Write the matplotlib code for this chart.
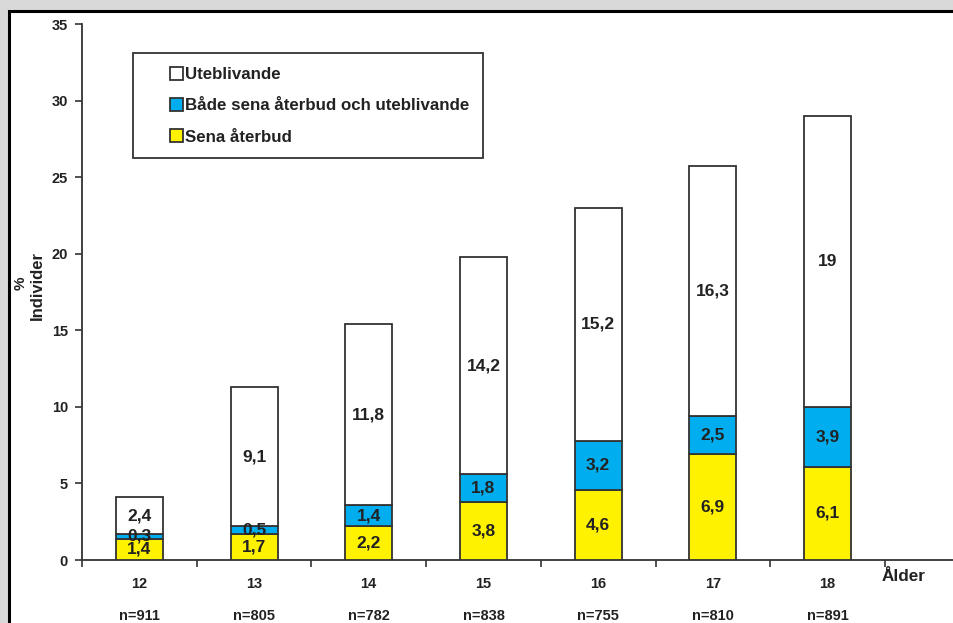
import matplotlib.pyplot as plt
from matplotlib.patches import Rectangle
from matplotlib.legend_handler import HandlerPatch, update_from_first_child
from matplotlib.container import BarContainer
import numpy as np

plt.rcParams["font.family"] = ["Liberation Sans", "DejaVu Sans"]
plt.rcParams["font.weight"] = "bold"

ages = ["12", "13", "14", "15", "16", "17", "18"]
n_labels = ["n=911", "n=805", "n=782", "n=838", "n=755", "n=810", "n=891"]
sena = [1.4, 1.7, 2.2, 3.8, 4.6, 6.9, 6.1]
bada = [0.3, 0.5, 1.4, 1.8, 3.2, 2.5, 3.9]
utebl = [2.4, 9.1, 11.8, 14.2, 15.2, 16.3, 19]
series_names = ["Uteblivande", "Både sena återbud och uteblivande", "Sena återbud"]

W, H = 954, 623
fig = plt.figure(figsize=(W / 100, H / 100), dpi=100)
fig.patch.set_facecolor("#d9d9d9")
# white frame with black border (cropped at right/bottom)
fig.patches.append(Rectangle((9 / W, -0.1), 1.2, 1 - 10.5 / H + 0.1, transform=fig.transFigure,
                             facecolor="white", edgecolor="black", linewidth=2.2, zorder=-5))

ax = fig.add_axes([82 / W, (H - 560) / H, (W - 82) / W, (560 - 24) / H])
ax.set_facecolor("none")
x = np.arange(len(ages))
edge = "#333333"
yellow = "#fff200"
blue = "#00aeef"
w = 0.41
b1 = ax.bar(x, sena, w, color=yellow, edgecolor=edge, linewidth=1.3, zorder=3)
b2 = ax.bar(x, bada, w, bottom=sena, color=blue, edgecolor=edge, linewidth=1.3, zorder=3)
bot = np.array(sena) + np.array(bada)
b3 = ax.bar(x, utebl, w, bottom=bot, color="white", edgecolor=edge, linewidth=1.3, zorder=3)

def fmt(v):
    return ("%g" % v).replace(".", ",")

for i in range(len(ages)):
    ax.text(x[i], sena[i] / 2, fmt(sena[i]), ha="center", va="center", fontsize=12.5, color="#222", zorder=4)
    ax.text(x[i], sena[i] + bada[i] / 2, fmt(bada[i]), ha="center", va="center", fontsize=12.5, color="#222", zorder=4)
    ax.text(x[i], bot[i] + utebl[i] / 2, fmt(utebl[i]), ha="center", va="center", fontsize=12.5, color="#222", zorder=4)

ax.set_ylim(0, 35)
ax.set_xlim(-0.5, -0.5 + (W - 82) / 114.7)
ax.set_yticks(np.arange(0, 36, 5))
ax.tick_params(axis="y", direction="out", length=5, width=1.2, color=edge, labelsize=10.5, pad=5, labelcolor="#222")
ax.set_xticks(x)
ax.set_xticklabels(ages)
ax.set_xticks(np.arange(-0.5, 7.0, 1), minor=True)
ax.tick_params(axis="x", which="major", length=0, labelsize=10.5, pad=12, labelcolor="#222")
ax.tick_params(axis="x", which="minor", direction="out", length=5, width=1.2, color=edge)
for sp in ["top", "right"]:
    ax.spines[sp].set_visible(False)
for sp in ["left", "bottom"]:
    ax.spines[sp].set_color(edge)
    ax.spines[sp].set_linewidth(1.3)

for i in range(len(ages)):
    ax.text(x[i], -0.104, n_labels[i], transform=ax.get_xaxis_transform(), ha="center", va="center",
            fontsize=10.5, color="#222")
ax.text(6.66, -0.0317, "Ålder", transform=ax.get_xaxis_transform(), ha="center", va="center",
        fontsize=12.3, color="#222")

fig.text(21 / W, 1 - 283 / H, "%", rotation=90, ha="center", va="center", fontsize=11, color="#222")
fig.text(37 / W, 1 - 286 / H, "Individer", rotation=90, ha="center", va="center", fontsize=12, color="#222")


def square(legend, orig_handle, xdescent, ydescent, width, height, fontsize):
    s = 9.4
    return Rectangle((-xdescent + width - s, -ydescent + (height - s) / 2), s, s)


leg = ax.legend([b3, b2, b1], series_names, loc="upper left",
                bbox_to_anchor=((133 - 82) / (W - 82), 1 - (53 - 24) / (560 - 24)),
                fancybox=False, edgecolor=edge, framealpha=1, fontsize=12.2,
                handlelength=2.15, handleheight=0.8, handletextpad=0.12, labelspacing=0.95,
                borderpad=0.8, borderaxespad=0,
                handler_map={BarContainer: HandlerPatch(patch_func=square,
                                                        update_func=update_from_first_child)})
leg.get_frame().set_linewidth(1.3)
for t in leg.get_texts():
    t.set_color("#222")

fig.savefig("out.png", dpi=100, facecolor=fig.get_facecolor())
